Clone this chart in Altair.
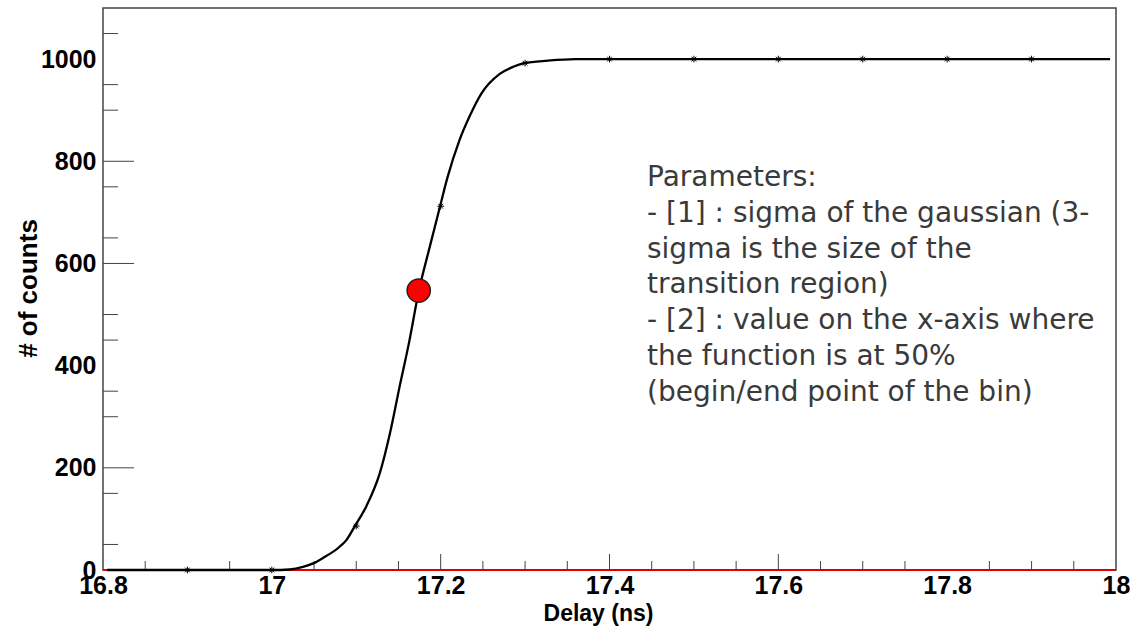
import altair as alt
import pandas as pd

# ---- data ----
delay_curve = [16.805, 16.9, 17.0, 17.021, 17.037, 17.049, 17.061, 17.080, 17.088, 17.098,
               17.112, 17.128, 17.140, 17.151, 17.163, 17.174, 17.187, 17.199, 17.208,
               17.222, 17.234, 17.248, 17.270, 17.286, 17.299, 17.327, 17.36, 17.993]
counts_curve = [0, 0, 0, 1, 6, 13, 24, 45, 58, 85,
                125, 190, 268, 356, 449, 545, 632, 710, 768,
                840, 887, 932, 971, 985, 992, 997, 1000, 1000]

delay_points = [16.9, 17.0, 17.1, 17.2, 17.3, 17.4, 17.5, 17.6, 17.7, 17.8, 17.9]
counts_points = [0, 0, 86, 712, 992, 1000, 1000, 1000, 1000, 1000, 1000]

mid_delay = [17.174]
mid_counts = [547]

x_labels = [16.8, 17.0, 17.2, 17.4, 17.6, 17.8, 18.0]
y_labels = [0, 200, 400, 600, 800, 1000]
x_major_ticks = [17.2, 17.4, 17.6]
x_minor_ticks = [16.85, 16.95, 17.05, 17.1, 17.15, 17.25, 17.3, 17.35, 17.45, 17.5,
                 17.55, 17.65, 17.7, 17.75, 17.85, 17.9, 17.95]
y_major_ticks = [200, 600, 800]
y_minor_ticks = [50, 150, 300, 350, 450, 500, 650, 750, 900, 950, 1050]

text_lines = [
    "Parameters:",
    "- [1] : sigma of the gaussian (3-",
    "sigma is the size of the",
    "transition region)",
    "- [2] : value on the x-axis where",
    "the function is at 50%",
    "(begin/end point of the bin)",
]

# ---- chart ----
W, H = 1013, 562
FONT = "Liberation Sans"

xs = alt.Scale(domain=[16.8, 18.0], nice=False, zero=False)
ys = alt.Scale(domain=[0, 1100], nice=False, zero=False)

X_AXIS = alt.Axis(values=x_labels, format="~g", title="Delay (ns)", tickSize=0,
                  domain=False, grid=False, labelFont=FONT, labelFontSize=25,
                  labelFontWeight="bold", labelColor="#000", labelPadding=3,
                  labelBaseline="top", labelFlush=False, labelOverlap=False,
                  titleFont=FONT, titleFontSize=23, titleFontWeight="bold",
                  titleColor="#000", titleX=495, titleY=43, titleAlign="center",
                  titleBaseline="middle", titleAnchor="middle")
Y_AXIS = alt.Axis(values=y_labels, format="d", title="# of counts", tickSize=0,
                  domain=False, grid=False, labelFont=FONT, labelFontSize=25,
                  labelFontWeight="bold", labelColor="#000", labelPadding=7,
                  labelBaseline="middle", labelFlush=False, labelOverlap=False,
                  titleFont=FONT, titleFontSize=26, titleFontWeight="bold",
                  titleColor="#000", titleX=-75, titleY=280, titleAngle=270,
                  titleAlign="center", titleBaseline="middle", titleAnchor="middle")


def X(field="delay"):
    return alt.X(f"{field}:Q", scale=xs, axis=X_AXIS)


def Y(field="counts"):
    return alt.Y(f"{field}:Q", scale=ys, axis=Y_AXIS)


curve_df = pd.DataFrame({"delay": delay_curve, "counts": counts_curve})
pts_df = pd.DataFrame({"delay": delay_points, "counts": counts_points})
mid_df = pd.DataFrame({"delay": mid_delay, "counts": mid_counts})
xmaj_df = pd.DataFrame({"delay": x_major_ticks})
xmin_df = pd.DataFrame({"delay": x_minor_ticks})
ymaj_df = pd.DataFrame({"counts": y_major_ticks})
ymin_df = pd.DataFrame({"counts": y_minor_ticks})

red_base = alt.Chart(curve_df).mark_rule(color="#e00000", strokeWidth=1.6).encode(
    y=alt.Y(datum=0, scale=ys, axis=Y_AXIS)
)

curve = alt.Chart(curve_df).mark_line(color="#000", strokeWidth=2.3,
                                      interpolate="monotone").encode(x=X(), y=Y())

star = "M-1,0L1,0M0,-1L0,1M-0.7,-0.7L0.7,0.7M-0.7,0.7L0.7,-0.7"
points = alt.Chart(pts_df).mark_point(shape=star, filled=False, stroke="#000",
                                      strokeWidth=1, size=45, opacity=1).encode(x=X(), y=Y())

mid = alt.Chart(mid_df).mark_circle(size=540, color="#ff0000", opacity=1,
                                    stroke="#222", strokeWidth=1.5).encode(x=X(), y=Y())

xmaj = alt.Chart(xmaj_df).mark_rule(color="#444", strokeWidth=1).encode(
    x=X(), y=alt.value(H), y2=alt.value(H - 16))
xmin = alt.Chart(xmin_df).mark_rule(color="#444", strokeWidth=1).encode(
    x=X(), y=alt.value(H), y2=alt.value(H - 9))
ymaj = alt.Chart(ymaj_df).mark_rule(color="#444", strokeWidth=1).encode(
    y=Y(), x=alt.value(0), x2=alt.value(31))
ymin = alt.Chart(ymin_df).mark_rule(color="#444", strokeWidth=1).encode(
    y=Y(), x=alt.value(0), x2=alt.value(15))

note = alt.Chart(mid_df).mark_text(align="left", baseline="alphabetic", font="DejaVu Sans",
                                   fontSize=28, lineHeight=35.8, color="#3a3a3a").encode(
    x=alt.value(544), y=alt.value(178), text=alt.value(text_lines))

chart = alt.layer(red_base, xmaj, xmin, ymaj, ymin, curve, points, mid, note).properties(
    width=W, height=H,
    autosize=alt.AutoSizeParams(type="none"),
    padding={"left": 103, "top": 8, "right": 14, "bottom": 57},
    background="white",
).configure_view(stroke="#444", strokeWidth=1.5)

chart.save("out.html", embed_options={"renderer": "svg", "actions": False})
